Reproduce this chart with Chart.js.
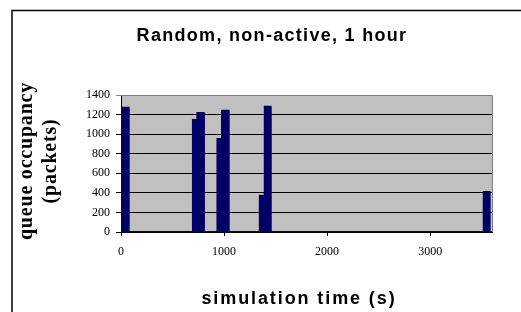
<!DOCTYPE html>
<html>
<head>
<meta charset="utf-8">
<script src="https://cdn.jsdelivr.net/npm/chart.js@4/dist/chart.umd.min.js"></script>
<style>
  html, body { margin: 0; padding: 0; background: #fff; }
  #wrap { width: 521px; height: 312px; position: relative; }
</style>
</head>
<body>
<div id="wrap"><canvas id="c" width="521" height="312"></canvas></div>
<script>
// ---- data ----
const chartTitle = 'Random, non-active, 1 hour';
const xTitle = 'simulation time (s)';
const yTitle = ['queue occupancy', '(packets)'];
const xTickValues = [0, 1000, 2000, 3000];
const yTickValues = [0, 200, 400, 600, 800, 1000, 1200, 1400];
// simulation time (s)
const times = [0, 1, 73, 75, 696, 698, 739, 741, 803, 805, 934, 936, 978, 980, 1043, 1045, 1345, 1347, 1393, 1395, 1451, 1453, 3518, 3520, 3575, 3577, 3600];
// queue occupancy (packets)
const queue = [0, 1270, 1270, 0, 0, 1145, 1145, 1215, 1215, 0, 0, 950, 950, 1240, 1240, 0, 0, 370, 370, 1280, 1280, 0, 0, 410, 410, 0, 0];

const points = times.map((t, i) => ({ x: t, y: queue[i] }));

const frame = {
  id: 'frame',
  beforeDraw(chart) {
    const { ctx, chartArea: a } = chart;
    ctx.save();
    ctx.fillStyle = '#fff';
    ctx.fillRect(0, 0, chart.width, chart.height);
    ctx.fillStyle = '#c0c0c0';
    ctx.fillRect(a.left, a.top, a.right - a.left, a.bottom - a.top);
    ctx.strokeStyle = '#000';
    ctx.lineWidth = 1.5;
    ctx.beginPath();
    ctx.moveTo(12, 312);
    ctx.lineTo(12, 10.5);
    ctx.lineTo(521, 10.5);
    ctx.stroke();
    ctx.restore();
  },
  afterDraw(chart) {
    const { ctx, chartArea: a } = chart;
    ctx.save();
    // plot border (top/right)
    ctx.strokeStyle = '#808080';
    ctx.lineWidth = 1;
    ctx.beginPath();
    ctx.moveTo(a.left, a.top + 0.5);
    ctx.lineTo(a.right + 0.5, a.top + 0.5);
    ctx.lineTo(a.right + 0.5, a.bottom);
    ctx.stroke();
    // titles
    ctx.fillStyle = '#000';
    ctx.textAlign = 'center';
    ctx.textBaseline = 'alphabetic';
    ctx.font = 'bold 18px "Liberation Sans", Arial, sans-serif';
    ctx.letterSpacing = '1.3px';
    ctx.fillText(chartTitle, 272, 41);
    ctx.letterSpacing = '1.9px';
    ctx.fillText(xTitle, 299, 304);
    ctx.letterSpacing = '0.8px';
    ctx.font = 'bold 20px "Liberation Serif", "Times New Roman", serif';
    ctx.translate(0, 161);
    ctx.rotate(-Math.PI / 2);
    ctx.textBaseline = 'middle';
    ctx.fillText(yTitle[0], 0, 27);
    ctx.fillText(yTitle[1], 0, 51);
    ctx.restore();
  }
};

new Chart(document.getElementById('c'), {
  type: 'line',
  data: {
    datasets: [{
      data: points,
      borderColor: '#000066',
      backgroundColor: '#000066',
      borderWidth: 2,
      pointRadius: 0,
      fill: 'origin',
      tension: 0
    }]
  },
  options: {
    responsive: false,
    animation: false,
    events: [],
    layout: { padding: { left: 12, right: 29, top: 95, bottom: 0 } },
    plugins: { legend: { display: false }, tooltip: { enabled: false }, title: { display: false } },
    scales: {
      x: {
        type: 'linear',
        min: 0, max: 3600,
        afterBuildTicks: s => { s.ticks = xTickValues.map(v => ({ value: v })); },
        afterFit: s => { s.height = 80; },
        grid: { drawOnChartArea: false, drawTicks: true, tickLength: 4, color: '#000' },
        border: { color: '#000', width: 1 },
        ticks: {
          color: '#000', padding: 9, maxRotation: 0,
          callback: v => String(v),
          font: { family: '"Liberation Serif", "Times New Roman", serif', size: 12 }
        }
      },
      y: {
        type: 'linear',
        min: 0, max: 1400,
        afterBuildTicks: s => { s.ticks = yTickValues.map(v => ({ value: v })); },
        afterFit: s => { s.width = 109; },
        grid: {
          drawTicks: true, tickLength: 5,
          color: ctx => (ctx.tick && ctx.tick.value === 1400) ? '#808080' : '#000'
        },
        border: { color: '#000', width: 1 },
        ticks: {
          color: '#000', padding: 6,
          callback: v => String(v),
          font: { family: '"Liberation Serif", "Times New Roman", serif', size: 12 }
        }
      }
    }
  },
  plugins: [frame]
});
</script>
</body>
</html>
